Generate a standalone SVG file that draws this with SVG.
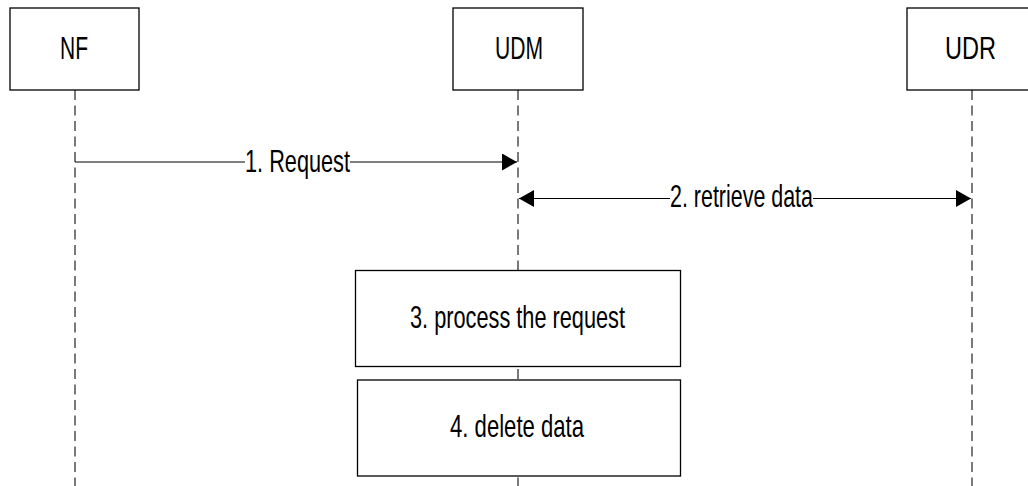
<svg xmlns="http://www.w3.org/2000/svg" width="1028" height="486" viewBox="0 0 1028 486">
<style>
.box{fill:#fff;stroke:#000;stroke-width:1.3}
.life{stroke:#333;stroke-width:1.3;stroke-dasharray:10 5.5;fill:none}
.msg{stroke:#000;stroke-width:1.2;fill:none}
.lbl{font-family:"Liberation Sans",Arial,sans-serif;font-size:31.5px;fill:#000}
</style>
<defs>
<marker id="ah" markerUnits="userSpaceOnUse" markerWidth="16" markerHeight="18" refX="15" refY="8.5" orient="auto" viewBox="0 0 16 18">
<path d="M0,0 L15,8.5 L0,17 Z" fill="#000"/>
</marker>
<marker id="ahs" markerUnits="userSpaceOnUse" markerWidth="16" markerHeight="18" refX="0" refY="8.5" orient="auto" viewBox="0 0 16 18">
<path d="M15,0 L0,8.5 L15,17 Z" fill="#000"/>
</marker>
</defs>
<g id="lifelines">
<line class="life" x1="75" y1="90" x2="75" y2="486"/>
<line class="life" x1="518" y1="90" x2="518" y2="486"/>
<line class="life" x1="972" y1="90" x2="972" y2="486"/>
</g>
<g id="NF">
<rect class="box" x="10" y="8" width="129" height="82"/>
<text class="lbl" x="60" y="58.5" textLength="28" lengthAdjust="spacingAndGlyphs">NF</text>
</g>
<g id="UDM">
<rect class="box" x="453" y="8" width="130" height="82"/>
<text class="lbl" x="495" y="58.5" textLength="48" lengthAdjust="spacingAndGlyphs">UDM</text>
</g>
<g id="UDR">
<rect class="box" x="907" y="8" width="130" height="82"/>
<text class="lbl" x="945" y="58.5" textLength="51" lengthAdjust="spacingAndGlyphs">UDR</text>
</g>
<g id="connectors">
<line class="msg" x1="75" y1="162" x2="245" y2="162"/>
<line class="msg" x1="350" y1="162" x2="517" y2="162" marker-end="url(#ah)"/>
<text class="lbl" x="245" y="171.5" textLength="105" lengthAdjust="spacingAndGlyphs">1. Request</text>
<line class="msg" x1="519" y1="198.5" x2="670" y2="198.5" marker-start="url(#ahs)"/>
<line class="msg" x1="813" y1="198.5" x2="971" y2="198.5" marker-end="url(#ah)"/>
<text class="lbl" x="670" y="207" textLength="143" lengthAdjust="spacingAndGlyphs">2. retrieve data</text>
</g>
<g id="process">
<rect class="box" x="355.5" y="270.5" width="325" height="96"/>
<text class="lbl" x="410" y="328" textLength="215" lengthAdjust="spacingAndGlyphs">3. process the request</text>
</g>
<g id="delete">
<rect class="box" x="357.5" y="380" width="323" height="96"/>
<text class="lbl" x="450" y="437" textLength="134" lengthAdjust="spacingAndGlyphs">4. delete data</text>
</g>
</svg>
